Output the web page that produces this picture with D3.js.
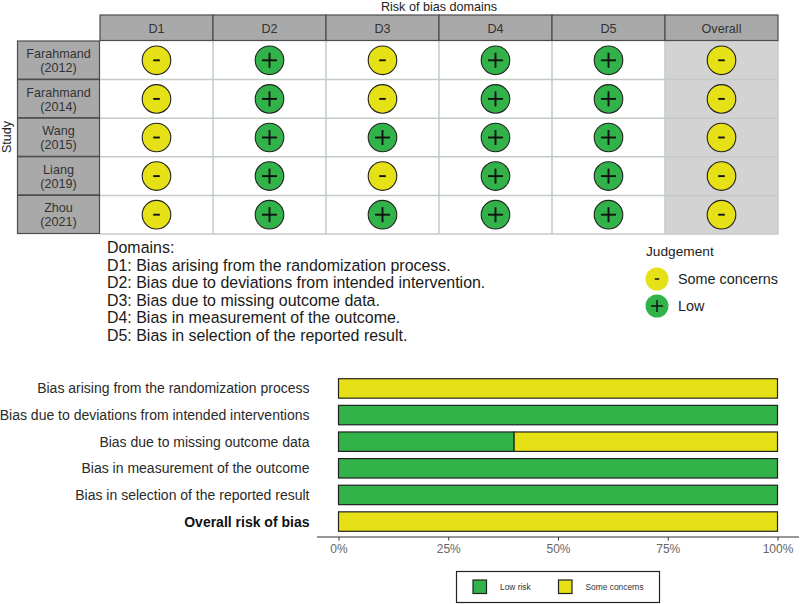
<!DOCTYPE html>
<html><head><meta charset="utf-8">
<script src="https://cdn.jsdelivr.net/npm/d3@7"></script>
<style>html,body{margin:0;padding:0;background:#fff}svg{display:block}text{font-family:"Liberation Sans",Arial,sans-serif}</style>
</head><body><svg id="c" width="800" height="604"></svg>
<script>
const domains = ["D1","D2","D3","D4","D5","Overall"];
const studies = ["Farahmand (2012)","Farahmand (2014)","Wang (2015)","Liang (2019)","Zhou (2021)"];
const judgements = [
  ["-","+","-","+","+","-"],
  ["-","+","-","+","+","-"],
  ["-","+","+","+","+","-"],
  ["-","+","-","+","+","-"],
  ["-","+","+","+","+","-"]
];
const domainNotes = ["Domains:","D1: Bias arising from the randomization process.","D2: Bias due to deviations from intended intervention.","D3: Bias due to missing outcome data.","D4: Bias in measurement of the outcome.","D5: Bias in selection of the reported result."];
const judgeLegend = [["-","Some concerns"],["+","Low"]];
const barCats = ["Bias arising from the randomization process","Bias due to deviations from intended interventions","Bias due to missing outcome data","Bias in measurement of the outcome","Bias in selection of the reported result","Overall risk of bias"];
const lowRisk = [0,100,40,100,100,0];
const someConcerns = [100,0,60,0,0,100];
const pctTicks = [0,25,50,75,100];
const barLegend = ["Low risk","Some concerns"];

const GREEN="#32b34a", YELLOW="#e6e016", HEAD="#a9a9a9", INK="#222";
const svg=d3.select("#c");
const x=d3.scaleBand().domain(domains).range([100,778]);
const y=d3.scaleBand().domain(studies).range([41,234]);

svg.append("rect").attr("x",x("Overall")).attr("y",41).attr("width",x.bandwidth()).attr("height",193).attr("fill","#d3d3d3");
const grid=svg.append("g").attr("stroke","#c3ccc3").attr("stroke-width",1.5);
domains.slice(1).concat(["end"]).forEach(d=>{const px=d==="end"?778:x(d);
  grid.append("line").attr("x1",px).attr("x2",px).attr("y1",41).attr("y2",234);});
studies.slice(1).concat(["end"]).forEach(s=>{const py=s==="end"?234:y(s);
  grid.append("line").attr("x1",100).attr("x2",778).attr("y1",py).attr("y2",py);});

svg.selectAll("rect.h").data(domains).join("rect").attr("class","h")
  .attr("x",d=>x(d)).attr("y",15).attr("width",x.bandwidth()).attr("height",25.5)
  .attr("fill",HEAD).attr("stroke","#4d4d4d").attr("stroke-width",1.2);
svg.selectAll("text.h").data(domains).join("text").attr("class","h")
  .attr("x",d=>x(d)+x.bandwidth()/2).attr("y",33).attr("text-anchor","middle")
  .attr("font-size",12.6).attr("fill","#333").text(d=>d);
svg.append("text").attr("x",439).attr("y",11.3).attr("text-anchor","middle").attr("font-size",12.6).attr("fill","#222").text("Risk of bias domains");

svg.selectAll("rect.s").data(studies).join("rect").attr("class","s")
  .attr("x",17.5).attr("y",d=>y(d)).attr("width",82).attr("height",y.bandwidth()-0.5)
  .attr("fill",HEAD).attr("stroke","#4d4d4d").attr("stroke-width",1.2);
studies.forEach(s=>{const p=s.split(" ");
  p.forEach((t,i)=>svg.append("text").attr("x",58.5).attr("y",y(s)+17+i*14).attr("text-anchor","middle")
    .attr("font-size",12.6).attr("fill","#333").text(t));});
svg.append("text").attr("transform","translate(10.5,137) rotate(-90)").attr("text-anchor","middle")
  .attr("font-size",12.6).attr("fill","#222").text("Study");

function sign(g,cx,cy,v){
  g.append("circle").attr("cx",cx).attr("cy",cy).attr("r",14.3)
   .attr("fill",v==="+"?GREEN:YELLOW).attr("stroke",INK).attr("stroke-width",1.1);
  const h=v==="+"?7.5:3.3;
  g.append("line").attr("x1",cx-h).attr("x2",cx+h).attr("y1",cy).attr("y2",cy).attr("stroke","#111").attr("stroke-width",1.9);
  if(v==="+") g.append("line").attr("x1",cx).attr("x2",cx).attr("y1",cy-h).attr("y2",cy+h).attr("stroke","#111").attr("stroke-width",1.9);
}
const gc=svg.append("g");
studies.forEach((s,i)=>domains.forEach((d,j)=>{
  sign(gc,x(d)+x.bandwidth()/2,y(s)+y.bandwidth()/2,judgements[i][j]);
}));

svg.selectAll("text.n").data(domainNotes).join("text").attr("class","n")
  .attr("x",107).attr("y",(d,i)=>253+i*17.5).attr("font-size",15.95).attr("fill","#1a1a1a").text(d=>d);

svg.append("text").attr("x",646).attr("y",256).attr("font-size",13.7).attr("fill","#222").text("Judgement");
judgeLegend.forEach((d,i)=>{
  const cy=279+i*27;
  const g=svg.append("g");
  g.append("circle").attr("cx",657).attr("cy",cy).attr("r",11.5).attr("fill",d[0]==="+"?GREEN:YELLOW);
  const h=d[0]==="+"?6:2.2;
  g.append("line").attr("x1",657-h).attr("x2",657+h).attr("y1",cy).attr("y2",cy).attr("stroke","#111").attr("stroke-width",1.5);
  if(d[0]==="+") g.append("line").attr("x1",657).attr("x2",657).attr("y1",cy-h).attr("y2",cy+h).attr("stroke","#111").attr("stroke-width",1.5);
  svg.append("text").attr("x",678).attr("y",cy+5).attr("font-size",14.4).attr("fill","#222").text(d[1]);
});

const bx=d3.scaleLinear().domain([0,100]).range([338.5,777.5]);
const by=d3.scaleBand().domain(barCats).range([375,535]).paddingInner(0.27).paddingOuter(0.14);
const rows=barCats.map((c,i)=>({c,low:lowRisk[i],some:someConcerns[i]}));
const stack=d3.stack().keys(["low","some"])(rows);
const colors={low:GREEN,some:YELLOW};
stack.forEach(layer=>{
  svg.append("g").selectAll("rect").data(layer.filter(d=>d[1]>d[0])).join("rect")
   .attr("x",d=>bx(d[0])).attr("width",d=>bx(d[1])-bx(d[0]))
   .attr("y",d=>by(d.data.c)).attr("height",by.bandwidth())
   .attr("fill",colors[layer.key]).attr("stroke","#222").attr("stroke-width",1.2);
});
svg.selectAll("text.c").data(barCats).join("text").attr("class","c")
  .attr("x",309.5).attr("y",d=>by(d)+by.bandwidth()/2+5).attr("text-anchor","end")
  .attr("font-size",14).attr("fill",(d,i)=>i===5?"#111":"#2a2a2a").attr("font-weight",(d,i)=>i===5?"bold":"normal").text(d=>d);

const ax=svg.append("g").attr("transform","translate(0,537)")
  .call(d3.axisBottom(bx).tickValues(pctTicks).tickFormat(d=>d+"%").tickSize(3.5).tickSizeOuter(0));
ax.select(".domain").remove();
ax.append("line").attr("x1",317).attr("x2",799).attr("stroke","#333").attr("stroke-width",1.1);
ax.selectAll(".tick line").attr("stroke","#333");
ax.selectAll(".tick text").attr("font-size",12).attr("fill","#666").attr("font-family",'"Liberation Sans",Arial,sans-serif').attr("dy","0.75em").attr("y",7);

svg.append("rect").attr("x",456.5).attr("y",571.5).attr("width",203).attr("height",31).attr("fill","#fff").attr("stroke","#222").attr("stroke-width",1.2);
const lx=[473,558.5], tx=[500,585.5];
barLegend.forEach((d,i)=>{
  svg.append("rect").attr("x",lx[i]).attr("y",580).attr("width",13.5).attr("height",13.5)
    .attr("fill",i?YELLOW:GREEN).attr("stroke","#222").attr("stroke-width",1.2);
  svg.append("text").attr("x",tx[i]).attr("y",590).attr("font-size",8.4).attr("fill","#333").text(d);
});
</script></body></html>
